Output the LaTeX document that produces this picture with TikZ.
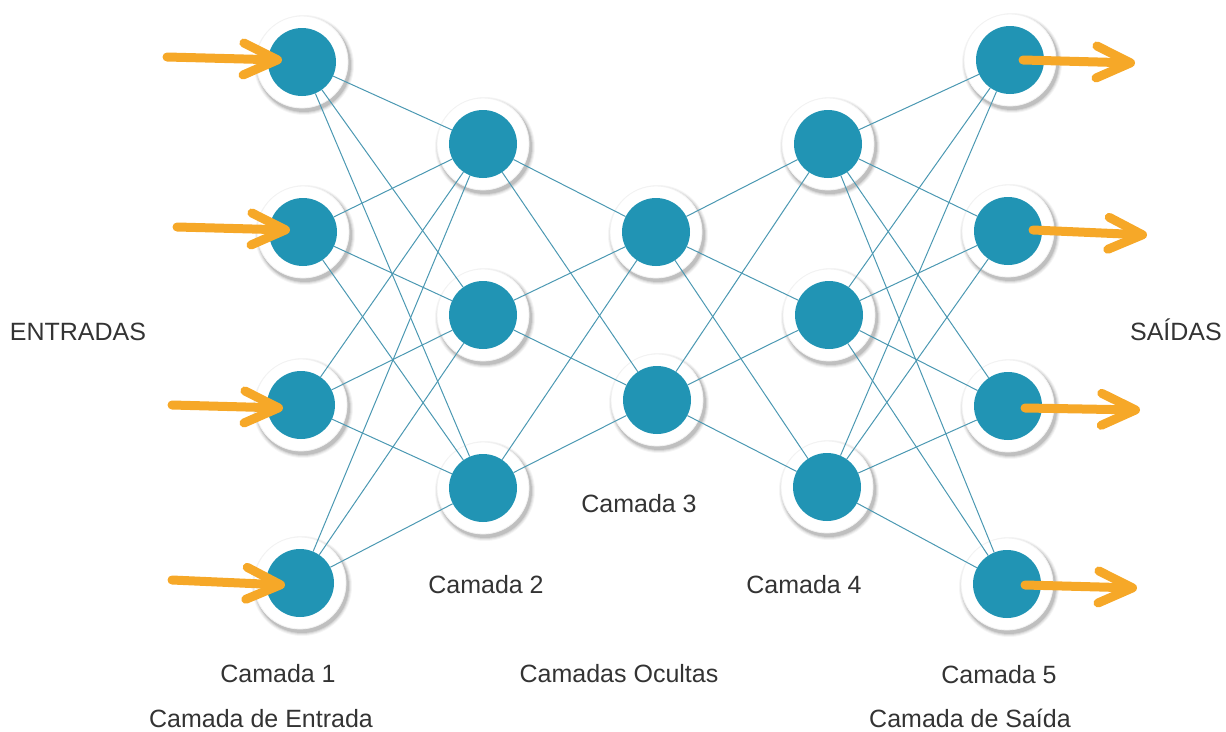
\documentclass[tikz,border=0pt]{standalone}
\usepackage{fontspec}
\setmainfont{Liberation Sans}
\usetikzlibrary{arrows.meta,calc}
\definecolor{neuronc}{RGB}{33,148,180}
\definecolor{edgec}{RGB}{75,152,178}
\definecolor{arrowc}{RGB}{246,168,40}
\definecolor{txt}{RGB}{51,51,51}
\pgfdeclarelayer{bg}
\pgfdeclarelayer{edges}
\pgfsetlayers{bg,edges,main}
\begin{document}
\begin{tikzpicture}[x=1pt,y=-1pt,
  neuron/.style={circle,fill=neuronc,minimum size=68pt,inner sep=0pt},
  link/.style={draw=edgec,line width=1pt},
  flow/.style={draw=arrowc,line width=9pt,line cap=round,-{Straight Barb[length=34pt,width=32pt,round]}},
  lbl/.style={text=txt,font=\fontsize{25}{30}\selectfont,anchor=base,inner sep=0pt}]
\useasboundingbox (0,0) rectangle (1226,731);
% layer 1
\node[neuron] (a1) at (302,62) {};
\node[neuron] (a2) at (303,232) {};
\node[neuron] (a3) at (301,405) {};
\node[neuron] (a4) at (300,583) {};
% layer 2
\node[neuron] (b1) at (483,144) {};
\node[neuron] (b2) at (483,315) {};
\node[neuron] (b3) at (483,488) {};
% layer 3
\node[neuron] (c1) at (656,232) {};
\node[neuron] (c2) at (657,400) {};
% layer 4
\node[neuron] (d1) at (828,144) {};
\node[neuron] (d2) at (829,315) {};
\node[neuron] (d3) at (827,487) {};
% layer 5
\node[neuron] (e1) at (1010,60) {};
\node[neuron] (e2) at (1008,231) {};
\node[neuron] (e3) at (1008,406) {};
\node[neuron] (e4) at (1007,584) {};
% rings with shadows
\begin{pgfonlayer}{bg}
\foreach \n in {a1,a2,a3,a4,b1,b2,b3,c1,c2,d1,d2,d3,e1,e2,e3,e4}{
  \foreach \r/\o in {50/0.04,49/0.06,48/0.08,47/0.1}{
    \fill[black,opacity=\o] ([xshift=2pt,yshift=-3pt]\n.center) circle (\r pt);
  }
  \filldraw[fill=white,draw=black!5,line width=0.8pt] (\n.center) circle (46pt);
}
\end{pgfonlayer}
% connections
\begin{pgfonlayer}{edges}
\foreach \i in {1,...,4}{\foreach \j in {1,2,3}{\draw[link] (a\i) -- (b\j);}}
\foreach \i in {1,2,3}{\foreach \j in {1,2}{\draw[link] (b\i) -- (c\j);}}
\foreach \i in {1,2}{\foreach \j in {1,2,3}{\draw[link] (c\i) -- (d\j);}}
\foreach \i in {1,2,3}{\foreach \j in {1,...,4}{\draw[link] (d\i) -- (e\j);}}
\end{pgfonlayer}
% input arrows
\coordinate (i1) at (167,57);
\coordinate (i2) at (177,227);
\coordinate (i3) at (172,405);
\coordinate (i4) at (172,580);
\draw[flow] (i1) -- ($(a1)+(-20,-2)$);
\draw[flow] (i2) -- ($(a2)+(-13,-2)$);
\draw[flow] (i3) -- ($(a3)+(-18,3)$);
\draw[flow] (i4) -- ($(a4)+(-15,2)$);
% output arrows
\coordinate (o1) at (1135,63);
\coordinate (o2) at (1147,235);
\coordinate (o3) at (1140,410);
\coordinate (o4) at (1137,588);
\draw[flow] ($(e1)+(13,0)$) -- (o1);
\draw[flow] ($(e2)+(25,-1)$) -- (o2);
\draw[flow] ($(e3)+(17,2)$) -- (o3);
\draw[flow] ($(e4)+(18,1)$) -- (o4);
% labels
\node[lbl] (entradas) at (78,340) {ENTRADAS};
\node[lbl,anchor=base east] (saidas) at (1222,340) {SAÍDAS};
\node[lbl] (cam1) at (278,682) {Camada 1};
\node[lbl] (entrada) at (261,727) {Camada de Entrada};
\node[lbl] (cam2) at (486,593) {Camada 2};
\node[lbl] (cam3) at (639,512) {Camada 3};
\node[lbl] (cam4) at (804,593) {Camada 4};
\node[lbl] (ocultas) at (619,682) {Camadas Ocultas};
\node[lbl] (cam5) at (999,683) {Camada 5};
\node[lbl] (saida) at (970,727) {Camada de Saída};
\end{tikzpicture}
\end{document}
